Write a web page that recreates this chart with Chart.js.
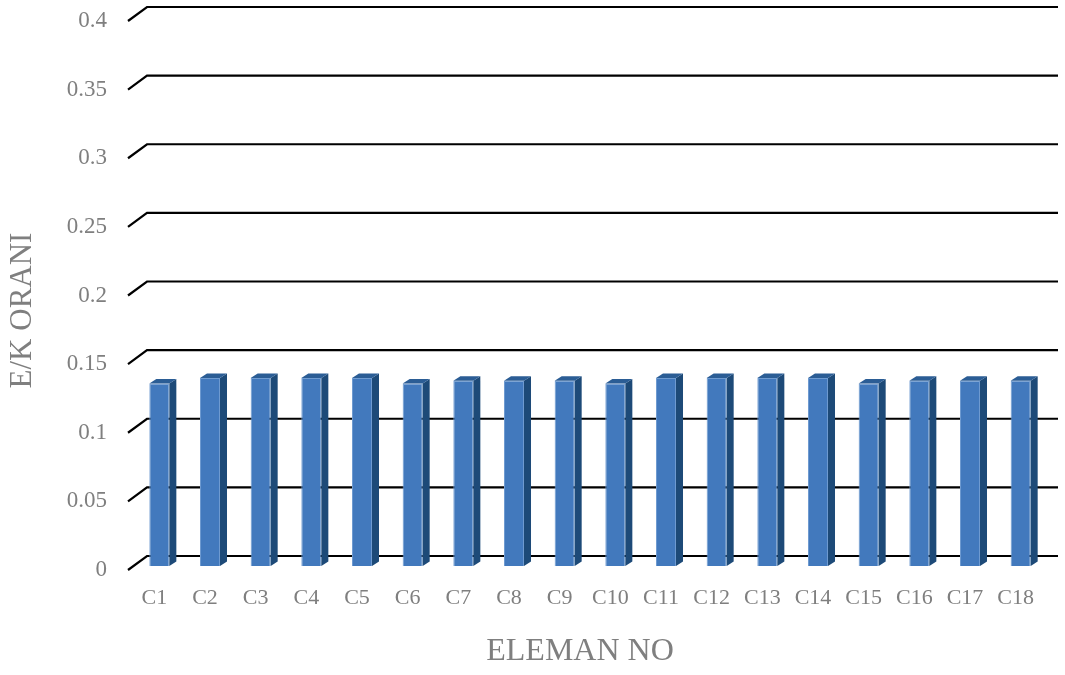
<!DOCTYPE html>
<html>
<head>
<meta charset="utf-8">
<script src="https://cdn.jsdelivr.net/npm/chart.js@4.4.1/dist/chart.umd.min.js"></script>
<style>
  html, body { margin: 0; padding: 0; background: #ffffff; }
  #wrap { width: 1065px; height: 675px; position: relative; }
</style>
</head>
<body>
<div id="wrap"><canvas id="c" width="1065" height="675"></canvas></div>
<script>
const categories = ["C1","C2","C3","C4","C5","C6","C7","C8","C9","C10","C11","C12","C13","C14","C15","C16","C17","C18"];
const ekValues = [0.133,0.137,0.137,0.137,0.137,0.133,0.135,0.135,0.135,0.133,0.137,0.137,0.137,0.137,0.133,0.135,0.135,0.135];
const yTickValues = [0,0.05,0.1,0.15,0.2,0.25,0.3,0.35,0.4];
const xTitle = "ELEMAN NO";
const yTitle = "E/K ORANI";

const GRAY = '#7f7f7f';
const FONT = "'Liberation Serif', 'Times New Roman', serif";
const DEPTH_X = 7, DEPTH_Y = 4.5;        // bar depth
const PLANE_DY = 4;                       // front plane below bar base
const BACK_DX = 19, BACK_DY = 14;         // back wall offset from front plane
const Y_TITLE_SHIFT = 19;
const X_TITLE_SHIFT = -10;

const grid3d = {
  id: 'grid3d',
  beforeDraw(chart) {
    // move the scale boxes so their titles centre like the reference
    const y = chart.scales.y, x = chart.scales.x, ca = chart.chartArea;
    y.top = ca.top + Y_TITLE_SHIFT;
    y.bottom = ca.bottom + Y_TITLE_SHIFT;
    x.left = ca.left + X_TITLE_SHIFT;
    x.right = ca.right + X_TITLE_SHIFT;
  },
  beforeDatasetsDraw(chart) {
    const ctx = chart.ctx, y = chart.scales.y, ca = chart.chartArea;
    const x0 = ca.left - 6;
    ctx.save();
    ctx.strokeStyle = '#000000';
    ctx.lineWidth = 2.2;
    y.ticks.forEach(t => {
      const yf = y.getPixelForValue(t.value) + PLANE_DY;
      ctx.beginPath();
      ctx.moveTo(x0, yf);
      ctx.lineTo(x0 + BACK_DX, yf - BACK_DY);
      ctx.lineTo(1058, yf - BACK_DY);
      ctx.stroke();
    });
    ctx.restore();
  }
};

const bar3d = {
  id: 'bar3d',
  afterDatasetsDraw(chart) {
    const ctx = chart.ctx;
    const meta = chart.getDatasetMeta(0);
    ctx.save();
    meta.data.forEach(b => {
      const p = b.getProps(['x','y','base','width'], true);
      const l = p.x - p.width / 2, r = p.x + p.width / 2;
      ctx.fillStyle = '#1d4a78';
      ctx.beginPath();
      ctx.moveTo(r, p.y);
      ctx.lineTo(r + DEPTH_X, p.y - DEPTH_Y);
      ctx.lineTo(r + DEPTH_X, p.base - DEPTH_Y);
      ctx.lineTo(r, p.base);
      ctx.closePath();
      ctx.fill();
      ctx.fillStyle = '#2b5d95';
      ctx.beginPath();
      ctx.moveTo(l, p.y);
      ctx.lineTo(l + DEPTH_X, p.y - DEPTH_Y);
      ctx.lineTo(r + DEPTH_X, p.y - DEPTH_Y);
      ctx.lineTo(r, p.y);
      ctx.closePath();
      ctx.fill();
    });
    ctx.restore();
  }
};

new Chart(document.getElementById('c'), {
  type: 'bar',
  data: {
    labels: categories,
    datasets: [{
      label: yTitle,
      data: ekValues,
      backgroundColor: '#4279bd',
      borderColor: '#6f9bd0',
      borderWidth: 1,
      categoryPercentage: 1,
      barPercentage: 0.395
    }]
  },
  options: {
    responsive: false,
    animation: false,
    devicePixelRatio: 1,
    layout: { padding: { top: 17, right: 19, bottom: 0, left: 0 } },
    plugins: { legend: { display: false }, tooltip: { enabled: false } },
    scales: {
      x: {
        grid: { display: false, drawTicks: false },
        border: { display: false },
        ticks: { color: GRAY, font: { family: FONT, size: 22 }, padding: 19, labelOffset: -5, maxRotation: 0, autoSkip: false },
        title: { display: true, text: xTitle, color: GRAY, font: { family: FONT, size: 32 }, padding: { top: 0, bottom: 4 } },
        afterFit(s) { s.height = 109; }
      },
      y: {
        min: 0, max: 0.4,
        afterBuildTicks(s) { s.ticks = yTickValues.map(v => ({ value: v })); },
        grid: { display: false, drawTicks: false },
        border: { display: false },
        ticks: { color: GRAY, font: { family: FONT, size: 23 }, padding: 27, labelOffset: 4,
                 callback: v => String(v) },
        title: { display: true, text: yTitle, color: GRAY, font: { family: FONT, size: 31 }, padding: { top: 4, bottom: 0 } },
        afterFit(s) { s.width = 134; s.paddingTop = 0; s.paddingBottom = 0; }
      }
    }
  },
  plugins: [grid3d, bar3d]
});
</script>
</body>
</html>
